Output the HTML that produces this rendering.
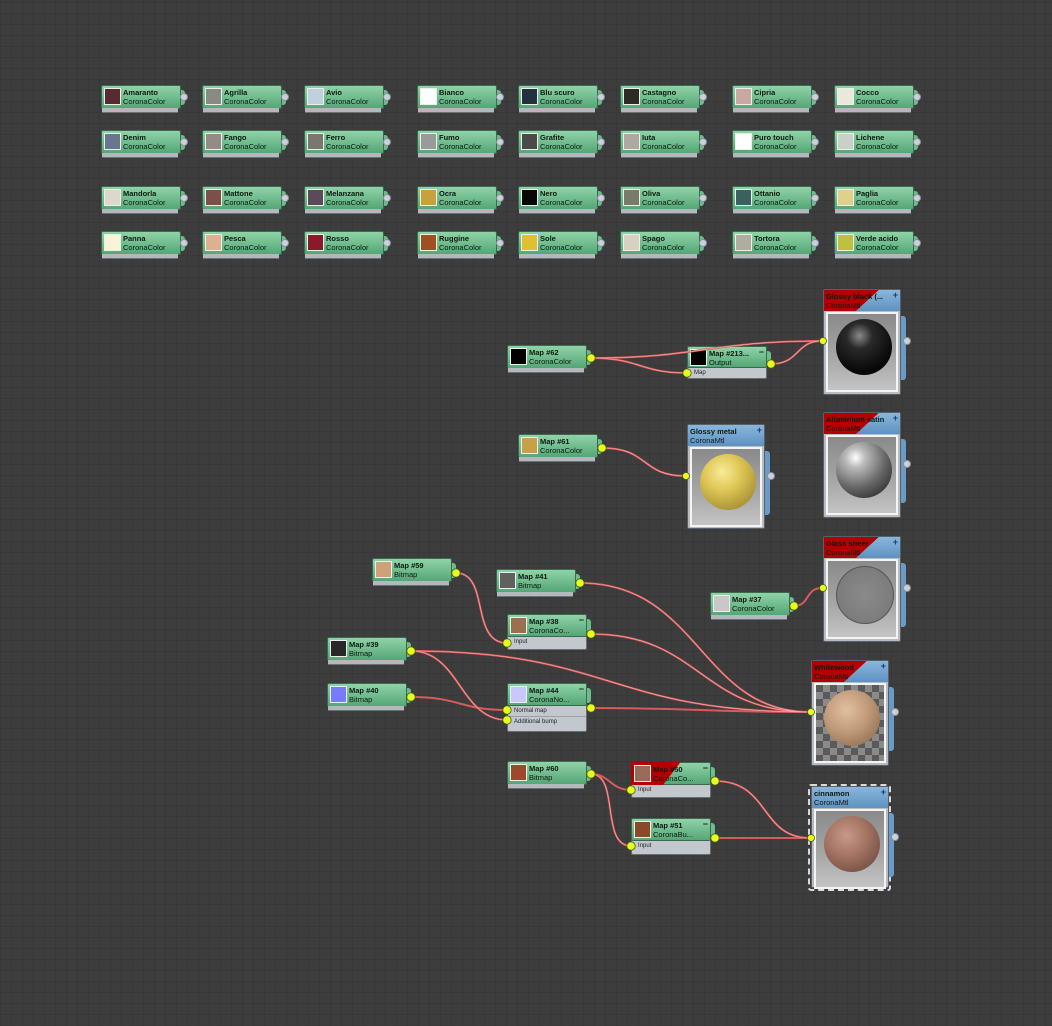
<!DOCTYPE html>
<html><head><meta charset="utf-8"><style>
body{margin:0;width:1052px;height:1026px;overflow:hidden;background-color:#3d3d3d;
background-image:repeating-linear-gradient(0deg,rgba(0,0,0,.08) 0 1px,transparent 1px 11px),repeating-linear-gradient(90deg,rgba(0,0,0,.08) 0 1px,transparent 1px 11px);
font-family:"Liberation Sans",sans-serif;position:relative}
.n{position:absolute;width:80px;height:24px;background:linear-gradient(#8fd3a8,#55a676);border:1px solid #3b6b4e;box-sizing:border-box;border-radius:2px}
.n::after{content:"";position:absolute;left:0;right:2px;top:100%;height:4px;background:#b4b8bc;border-bottom:1px solid #6c7074}
.n.nn::after{display:none}
.n::before{content:"";position:absolute;left:79px;top:4px;width:4px;height:15px;background:#6cbc8c;border-radius:0 3px 3px 0}
.n i{position:absolute;left:2px;top:2px;width:17px;height:17px;border:1px solid #e8f0e8;box-sizing:border-box}
.n b,.n span,.m b,.m span{position:absolute;left:21px;font-size:7.5px;color:#0c1a10;white-space:nowrap;line-height:9px}
.n b{top:2px;font-weight:bold}.n span{top:11px}
.o{position:absolute;width:8px;height:8px;border-radius:50%;background:#c8d2dc;border:1px solid #8a9098;box-sizing:border-box}
.g{position:absolute;width:80px;background:#c3c8ce;border:1px solid #6a6e72;box-sizing:border-box;border-radius:2px}
.g div{font-size:6px;color:#222;padding-left:6px;height:10px;line-height:10px;border-bottom:1px solid #9aa0a6}
.m{position:absolute;width:78px;background:#b8bcc0;border:1px solid #5a6068;box-sizing:border-box;border-radius:2px}
.m .h{height:21px;background:linear-gradient(#8ab6dc,#5e92c2);position:relative;overflow:hidden}
.m .h b{left:2px;top:2px;font-weight:bold}.m .h span{left:2px;top:11px}
.m .pr{margin:1px 2px;height:76px;border:2px solid #f4f4f4;background:linear-gradient(#8a8a8a,#a8a8a8 60%,#c4c4c4);position:relative}
.m .tab{position:absolute;right:-6px;top:26px;width:5px;height:64px;background:#6a9ac6;border-radius:0 3px 3px 0}
.pl{position:absolute;right:2px;top:0;font-size:9px;color:#1a3a6a;font-weight:bold}
.sp{position:absolute;left:8px;top:5px;width:56px;height:56px;border-radius:50%}
</style></head><body>

<div class="n" style="left:101px;top:85px"><i style="background:#5a2a30"></i><b>Amaranto</b><span>CoronaColor</span></div>
<div class="n" style="left:202px;top:85px"><i style="background:#8a8a84"></i><b>Agrilla</b><span>CoronaColor</span></div>
<div class="n" style="left:304px;top:85px"><i style="background:#c0d0dc"></i><b>Avio</b><span>CoronaColor</span></div>
<div class="n" style="left:417px;top:85px"><i style="background:#ffffff"></i><b>Bianco</b><span>CoronaColor</span></div>
<div class="n" style="left:518px;top:85px"><i style="background:#223040"></i><b>Blu scuro</b><span>CoronaColor</span></div>
<div class="n" style="left:620px;top:85px"><i style="background:#2e2a26"></i><b>Castagno</b><span>CoronaColor</span></div>
<div class="n" style="left:732px;top:85px"><i style="background:#c8a8a0"></i><b>Cipria</b><span>CoronaColor</span></div>
<div class="n" style="left:834px;top:85px"><i style="background:#e8e8dc"></i><b>Cocco</b><span>CoronaColor</span></div>

<div class="n" style="left:101px;top:130px"><i style="background:#6a7590"></i><b>Denim</b><span>CoronaColor</span></div>
<div class="n" style="left:202px;top:130px"><i style="background:#948a88"></i><b>Fango</b><span>CoronaColor</span></div>
<div class="n" style="left:304px;top:130px"><i style="background:#7a7670"></i><b>Ferro</b><span>CoronaColor</span></div>
<div class="n" style="left:417px;top:130px"><i style="background:#9a9a9a"></i><b>Fumo</b><span>CoronaColor</span></div>
<div class="n" style="left:518px;top:130px"><i style="background:#4a4a4a"></i><b>Grafite</b><span>CoronaColor</span></div>
<div class="n" style="left:620px;top:130px"><i style="background:#b0a8a0"></i><b>Iuta</b><span>CoronaColor</span></div>
<div class="n" style="left:732px;top:130px"><i style="background:#ffffff"></i><b>Puro touch</b><span>CoronaColor</span></div>
<div class="n" style="left:834px;top:130px"><i style="background:#c8d0c8"></i><b>Lichene</b><span>CoronaColor</span></div>

<div class="n" style="left:101px;top:186px"><i style="background:#ddd8cc"></i><b>Mandorla</b><span>CoronaColor</span></div>
<div class="n" style="left:202px;top:186px"><i style="background:#7a5048"></i><b>Mattone</b><span>CoronaColor</span></div>
<div class="n" style="left:304px;top:186px"><i style="background:#5a4a5a"></i><b>Melanzana</b><span>CoronaColor</span></div>
<div class="n" style="left:417px;top:186px"><i style="background:#c8a040"></i><b>Ocra</b><span>CoronaColor</span></div>
<div class="n" style="left:518px;top:186px"><i style="background:#080808"></i><b>Nero</b><span>CoronaColor</span></div>
<div class="n" style="left:620px;top:186px"><i style="background:#7a7a6a"></i><b>Oliva</b><span>CoronaColor</span></div>
<div class="n" style="left:732px;top:186px"><i style="background:#3a6060"></i><b>Ottanio</b><span>CoronaColor</span></div>
<div class="n" style="left:834px;top:186px"><i style="background:#e0d088"></i><b>Paglia</b><span>CoronaColor</span></div>

<div class="n" style="left:101px;top:231px"><i style="background:#f8f4d8"></i><b>Panna</b><span>CoronaColor</span></div>
<div class="n" style="left:202px;top:231px"><i style="background:#dcb090"></i><b>Pesca</b><span>CoronaColor</span></div>
<div class="n" style="left:304px;top:231px"><i style="background:#8a1a2a"></i><b>Rosso</b><span>CoronaColor</span></div>
<div class="n" style="left:417px;top:231px"><i style="background:#a05020"></i><b>Ruggine</b><span>CoronaColor</span></div>
<div class="n" style="left:518px;top:231px"><i style="background:#e0c030"></i><b>Sole</b><span>CoronaColor</span></div>
<div class="n" style="left:620px;top:231px"><i style="background:#d8d0c0"></i><b>Spago</b><span>CoronaColor</span></div>
<div class="n" style="left:732px;top:231px"><i style="background:#b0aca0"></i><b>Tortora</b><span>CoronaColor</span></div>
<div class="n" style="left:834px;top:231px"><i style="background:#c0c040"></i><b>Verde acido</b><span>CoronaColor</span></div>

<div class="o" style="left:180px;top:93px"></div><div class="o" style="left:281px;top:93px"></div><div class="o" style="left:383px;top:93px"></div><div class="o" style="left:496px;top:93px"></div><div class="o" style="left:597px;top:93px"></div><div class="o" style="left:699px;top:93px"></div><div class="o" style="left:811px;top:93px"></div><div class="o" style="left:913px;top:93px"></div>
<div class="o" style="left:180px;top:138px"></div><div class="o" style="left:281px;top:138px"></div><div class="o" style="left:383px;top:138px"></div><div class="o" style="left:496px;top:138px"></div><div class="o" style="left:597px;top:138px"></div><div class="o" style="left:699px;top:138px"></div><div class="o" style="left:811px;top:138px"></div><div class="o" style="left:913px;top:138px"></div>
<div class="o" style="left:180px;top:194px"></div><div class="o" style="left:281px;top:194px"></div><div class="o" style="left:383px;top:194px"></div><div class="o" style="left:496px;top:194px"></div><div class="o" style="left:597px;top:194px"></div><div class="o" style="left:699px;top:194px"></div><div class="o" style="left:811px;top:194px"></div><div class="o" style="left:913px;top:194px"></div>
<div class="o" style="left:180px;top:239px"></div><div class="o" style="left:281px;top:239px"></div><div class="o" style="left:383px;top:239px"></div><div class="o" style="left:496px;top:239px"></div><div class="o" style="left:597px;top:239px"></div><div class="o" style="left:699px;top:239px"></div><div class="o" style="left:811px;top:239px"></div><div class="o" style="left:913px;top:239px"></div>

<div class="n" style="left:507px;top:345px"><i style="background:#000"></i><b>Map #62</b><span>CoronaColor</span></div>
<div class="n" style="left:518px;top:434px"><i style="background:#c8a048"></i><b>Map #61</b><span>CoronaColor</span></div>
<div class="n" style="left:372px;top:558px"><i style="background:#d0a078"></i><b>Map #59</b><span>Bitmap</span></div>
<div class="n" style="left:496px;top:569px"><i style="background:#606060"></i><b>Map #41</b><span>Bitmap</span></div>
<div class="n" style="left:327px;top:637px"><i style="background:#282828"></i><b>Map #39</b><span>Bitmap</span></div>
<div class="n" style="left:327px;top:683px"><i style="background:#7a7aff"></i><b>Map #40</b><span>Bitmap</span></div>
<div class="n" style="left:710px;top:592px"><i style="background:#c8c8c8"></i><b>Map #37</b><span>CoronaColor</span></div>
<div class="n" style="left:507px;top:761px"><i style="background:#9a4a2a"></i><b>Map #60</b><span>Bitmap</span></div>

<div class="g" style="left:687px;top:346px;height:33px"><div style="margin-top:21px;border:none">Map</div></div>
<div class="n nn" style="left:687px;top:346px;height:22px"><i style="background:#000"></i><b>Map #213...</b><span>Output</span><em class="pl" style="font-style:normal;color:#222">−</em></div>

<div class="g" style="left:507px;top:614px;height:36px"><div style="margin-top:22px;border:none">Input</div></div>
<div class="n nn" style="left:507px;top:614px;height:23px"><i style="background:#9a7050"></i><b>Map #38</b><span>CoronaCo...</span><em class="pl" style="font-style:normal;color:#222">−</em></div>

<div class="g" style="left:507px;top:683px;height:49px"><div style="margin-top:22px">Normal map</div><div style="border:none">Additional bump</div></div>
<div class="n nn" style="left:507px;top:683px;height:23px"><i style="background:#c8c8ff"></i><b>Map #44</b><span>CoronaNo...</span><em class="pl" style="font-style:normal;color:#222">−</em></div>

<div class="g" style="left:631px;top:762px;height:36px"><div style="margin-top:22px;border:none">Input</div></div>
<div class="n nn" style="left:631px;top:762px;height:23px;overflow:visible"><div style="position:absolute;left:-1px;top:-1px;width:80px;height:23px;background:#b40000;clip-path:polygon(0 0,62% 0,40% 100%,0 100%)"></div><i style="background:#9a6a5a"></i><b>Map #50</b><span>CoronaCo...</span><em class="pl" style="font-style:normal;color:#222">−</em></div>

<div class="g" style="left:631px;top:818px;height:37px"><div style="margin-top:22px;border:none">Input</div></div>
<div class="n nn" style="left:631px;top:818px;height:23px"><i style="background:#8a4a2a"></i><b>Map #51</b><span>CoronaBu...</span><em class="pl" style="font-style:normal;color:#222">−</em></div>

<div class="m" style="left:823px;top:289px;height:106px"><div class="tab"></div><div class="h"><div style="position:absolute;inset:0;background:#b40000;clip-path:polygon(0 0,72% 0,42% 100%,0 100%)"></div><b>Glossy black (...</b><span>CoronaMtl</span><em class="pl" style="font-style:normal">+</em></div><div class="pr"><div class="sp" style="background:radial-gradient(circle at 42% 30%,#8a8a8a 0,#2a2a2a 25%,#080808 70%)"></div></div></div>
<div class="m" style="left:823px;top:412px;height:106px"><div class="tab"></div><div class="h"><div style="position:absolute;inset:0;background:#b40000;clip-path:polygon(0 0,72% 0,42% 100%,0 100%)"></div><b>Aluminium satin</b><span>CoronaMtl</span><em class="pl" style="font-style:normal">+</em></div><div class="pr"><div class="sp" style="background:radial-gradient(circle at 35% 28%,#fff 0,#bbb 18%,#666 55%,#3a3a3a 80%)"></div></div></div>
<div class="m" style="left:823px;top:536px;height:106px"><div class="tab"></div><div class="h"><div style="position:absolute;inset:0;background:#b40000;clip-path:polygon(0 0,72% 0,42% 100%,0 100%)"></div><b>Glass sheer</b><span>CoronaMtl</span><em class="pl" style="font-style:normal">+</em></div><div class="pr"><div class="sp" style="background:radial-gradient(circle at 50% 50%,#8a8a8a 0,#7a7a7a 80%,#4a4a4a 96%);border:1px solid #555"></div></div></div>
<div class="m" style="left:811px;top:660px;height:106px"><div class="tab"></div><div class="h"><div style="position:absolute;inset:0;background:#b40000;clip-path:polygon(0 0,72% 0,42% 100%,0 100%)"></div><b>Whitewood</b><span>CoronaMtl</span><em class="pl" style="font-style:normal">+</em></div><div class="pr" style="background:repeating-conic-gradient(#8a8a8a 0 25%,#5a5a5a 0 50%) 0 0/14px 14px"><div class="sp" style="background:radial-gradient(circle at 40% 35%,#e0c0a0 0,#c09a78 45%,#8a6a50 90%)"></div></div></div>
<div class="m" style="left:687px;top:424px;height:105px"><div class="tab"></div><div class="h"><b>Glossy metal</b><span>CoronaMtl</span><em class="pl" style="font-style:normal">+</em></div><div class="pr"><div class="sp" style="background:radial-gradient(circle at 40% 32%,#f8ec98 0,#e0c858 35%,#a08a30 85%)"></div></div></div>
<div style="position:absolute;left:808px;top:784px;width:83px;height:107px;border:2px dashed #dadada;box-sizing:border-box;border-radius:3px"></div>
<div class="m" style="left:811px;top:786px;height:102px"><div class="tab"></div><div class="h"><b>cinnamon</b><span>CoronaMtl</span><em class="pl" style="font-style:normal">+</em></div><div class="pr"><div class="sp" style="background:radial-gradient(circle at 40% 35%,#c89888 0,#a07060 45%,#6a4a3e 90%)"></div></div></div>

<div class="o" style="left:903px;top:337px"></div><div class="o" style="left:903px;top:460px"></div><div class="o" style="left:903px;top:584px"></div><div class="o" style="left:891px;top:708px"></div><div class="o" style="left:891px;top:833px"></div><div class="o" style="left:767px;top:472px"></div>

<svg width="1052" height="1026" style="position:absolute;left:0;top:0" fill="none">
<g stroke="#d85a5a" stroke-width="2">
<path d="M591 358 C700 358 710 341 822 341"/><path d="M591 358 C640 358 640 373 687 373"/><path d="M771 364 C800 364 795 341 822 341"/>
<path d="M602 448 C650 448 640 476 686 476"/><path d="M794 606 C810 606 805 588 822 588"/>
<path d="M456 573 C490 573 470 643 507 643"/>
<path d="M580 583 C700 583 700 712 810 712"/><path d="M591 634 C700 634 700 712 810 712"/>
<path d="M411 651 C610 651 610 712 810 712"/><path d="M411 651 C460 651 460 720 507 720"/>
<path d="M411 697 C460 697 460 710 507 710"/><path d="M591 708 C700 708 700 712 810 712"/>
<path d="M591 774 C610 774 610 790 631 790"/><path d="M591 774 C620 774 600 846 631 846"/>
<path d="M715 781 C770 781 760 838 810 838"/><path d="M715 838 L810 838"/>
</g>
<g stroke="#f4b0b0" stroke-width=".6">
<path d="M591 358 C700 358 710 341 822 341"/><path d="M591 358 C640 358 640 373 687 373"/><path d="M771 364 C800 364 795 341 822 341"/>
<path d="M602 448 C650 448 640 476 686 476"/><path d="M456 573 C490 573 470 643 507 643"/>
<path d="M580 583 C700 583 700 712 810 712"/><path d="M591 634 C700 634 700 712 810 712"/>
<path d="M411 651 C610 651 610 712 810 712"/><path d="M411 651 C460 651 460 720 507 720"/>
<path d="M591 774 C620 774 600 846 631 846"/><path d="M715 781 C770 781 760 838 810 838"/>
</g>
<g fill="#e4ff1e" stroke="#4a5a10" stroke-width=".8">
<circle cx="591" cy="358" r="4.2"/><circle cx="687" cy="373" r="4.2"/><circle cx="771" cy="364" r="4.2"/><circle cx="823" cy="341" r="3.5"/>
<circle cx="602" cy="448" r="4.2"/><circle cx="686" cy="476" r="3.5"/>
<circle cx="794" cy="606" r="4.2"/><circle cx="823" cy="588" r="3.5"/>
<circle cx="456" cy="573" r="4.2"/><circle cx="580" cy="583" r="4.2"/><circle cx="507" cy="643" r="4.2"/><circle cx="591" cy="634" r="4.2"/>
<circle cx="411" cy="651" r="4.2"/><circle cx="411" cy="697" r="4.2"/><circle cx="507" cy="710" r="4.2"/><circle cx="507" cy="720" r="4.2"/><circle cx="591" cy="708" r="4.2"/><circle cx="811" cy="712" r="3.5"/>
<circle cx="591" cy="774" r="4.2"/><circle cx="631" cy="790" r="4.2"/><circle cx="631" cy="846" r="4.2"/><circle cx="715" cy="781" r="4.2"/><circle cx="715" cy="838" r="4.2"/><circle cx="811" cy="838" r="3.5"/>
</g>
</svg>
</body></html>
